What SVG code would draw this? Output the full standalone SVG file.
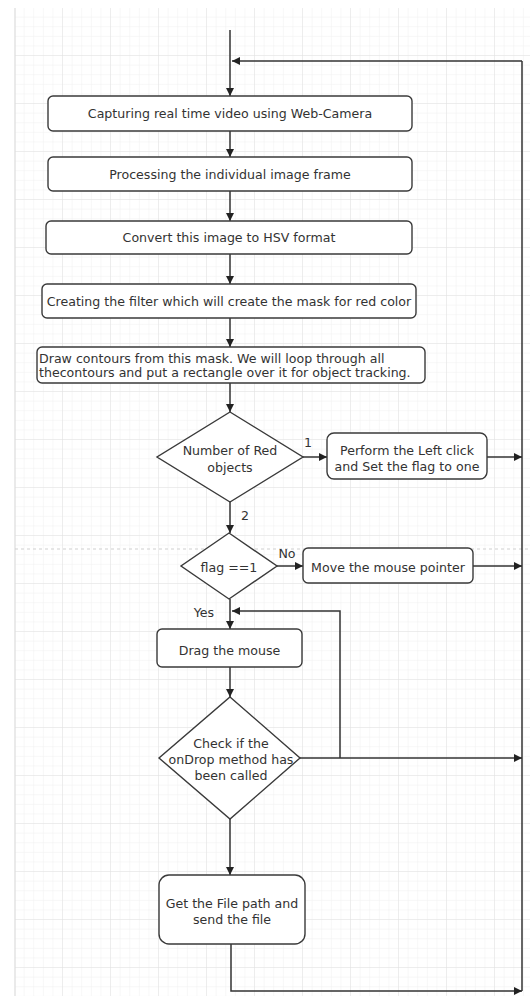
<svg xmlns="http://www.w3.org/2000/svg" width="530" height="996" viewBox="0 0 530 996">
<defs>
<pattern id="minor" width="9.6" height="9.6" patternUnits="userSpaceOnUse" x="15" y="8">
<path d="M9.6,0 V9.6 M0,9.6 H9.6" fill="none" stroke="#efefef" stroke-width="1"/>
</pattern>
<pattern id="major" width="48" height="48" patternUnits="userSpaceOnUse" x="15" y="8">
<path d="M48,0 V48 M0,48 H48" fill="none" stroke="#e2e2e2" stroke-width="1"/>
</pattern>
<marker id="arr" viewBox="0 0 10 10" refX="10" refY="5" markerWidth="10" markerHeight="8" markerUnits="userSpaceOnUse" orient="auto">
<path d="M0,0 L10,5 L0,10 z" fill="#222"/>
</marker>
<style>
.box{fill:#fff;stroke:#3a3a3a;stroke-width:1.4}
.t{font-family:"DejaVu Sans","Liberation Sans",sans-serif;font-size:12.6px;fill:#333;text-anchor:middle}
.tl{font-family:"DejaVu Sans","Liberation Sans",sans-serif;font-size:12.6px;fill:#333}
.c{fill:none;stroke:#333;stroke-width:1.5}
.ca{fill:none;stroke:#333;stroke-width:1.5;marker-end:url(#arr)}
</style>
</defs>
<rect width="530" height="996" fill="#fff"/>
<g id="background">
<rect x="15" y="8" width="515" height="988" fill="url(#minor)"/>
<rect x="15" y="8" width="515" height="988" fill="url(#major)"/>
<line x1="15" y1="8" x2="15" y2="996" stroke="#dcdcdc" stroke-width="1.2"/>
<line x1="15" y1="549" x2="530" y2="549" stroke="#cfcfcf" stroke-width="1" stroke-dasharray="3,3"/>
</g>
<g id="connectors">
<path class="ca" d="M230,30 V96"/>
<path class="c" d="M522,61 V991"/>
<path class="ca" d="M522,61 H232"/>
<path class="ca" d="M230,131 V157"/>
<path class="ca" d="M230,191 V221"/>
<path class="ca" d="M230,254 V284"/>
<path class="ca" d="M230,318 V347"/>
<path class="ca" d="M230,383 V412"/>
<path class="ca" d="M303,457 H327"/>
<path class="ca" d="M487,457 H522"/>
<path class="ca" d="M230,502 V533"/>
<path class="ca" d="M277,566 H303"/>
<path class="ca" d="M473,566 H522"/>
<path class="ca" d="M230,599 V629"/>
<path class="ca" d="M340,758 V611 H232"/>
<path class="ca" d="M230,667 V697"/>
<path class="ca" d="M300,758 H522"/>
<path class="ca" d="M230,819 V875"/>
<path class="ca" d="M231,944 V991 H522"/>
<text class="t" x="308" y="446.5">1</text>
<text class="t" x="245" y="519.5">2</text>
<text class="t" x="287" y="557.5">No</text>
<text class="t" x="204" y="616.5">Yes</text>
</g>
<g id="capture">
<rect class="box" x="48" y="96" width="364" height="35" rx="5"/>
<text class="t" x="230" y="118">Capturing real time video using Web-Camera</text>
</g>
<g id="process">
<rect class="box" x="48" y="157" width="364" height="34" rx="5"/>
<text class="t" x="230" y="178.5">Processing the individual image frame</text>
</g>
<g id="hsv">
<rect class="box" x="46" y="221" width="366" height="33" rx="5"/>
<text class="t" x="229" y="242">Convert this image to HSV format</text>
</g>
<g id="filter">
<rect class="box" x="42" y="284" width="374" height="34" rx="5"/>
<text class="t" x="229" y="305.5">Creating the filter which will create the mask for red color</text>
</g>
<g id="contours">
<rect class="box" x="37" y="347" width="388" height="36" rx="5"/>
<text class="tl" x="39" y="362.5">Draw contours from this mask. We will loop through all</text>
<text class="tl" x="39" y="376.5">thecontours and put a rectangle over it for object tracking.</text>
</g>
<g id="decision-red">
<polygon class="box" points="230,412 303,457 230,502 157,457"/>
<text class="t" x="230" y="454.5">Number of Red</text>
<text class="t" x="230" y="471.5">objects</text>
</g>
<g id="left-click">
<rect class="box" x="327" y="433" width="160" height="46" rx="7"/>
<text class="t" x="407" y="454.5">Perform the Left click</text>
<text class="t" x="407" y="470.5">and Set the flag to one</text>
</g>
<g id="decision-flag">
<polygon class="box" points="229,533 277,566 229,599 181,566"/>
<text class="t" x="229" y="571.5">flag ==1</text>
</g>
<g id="move-pointer">
<rect class="box" x="303" y="548" width="170" height="35" rx="5"/>
<text class="t" x="388" y="571.5">Move the mouse pointer</text>
</g>
<g id="drag">
<rect class="box" x="157" y="629" width="145" height="38" rx="5"/>
<text class="t" x="229.5" y="654.5">Drag the mouse</text>
</g>
<g id="decision-drop">
<polygon class="box" points="230,697 300,758 230,819 159,758"/>
<text class="t" x="231" y="747.5">Check if the</text>
<text class="t" x="231" y="763.5">onDrop method has</text>
<text class="t" x="231" y="779.5">been called</text>
</g>
<g id="send-file">
<rect class="box" x="159" y="875" width="146" height="69" rx="10"/>
<text class="t" x="232" y="907.5">Get the File path and</text>
<text class="t" x="232" y="923.5">send the file</text>
</g>
</svg>
